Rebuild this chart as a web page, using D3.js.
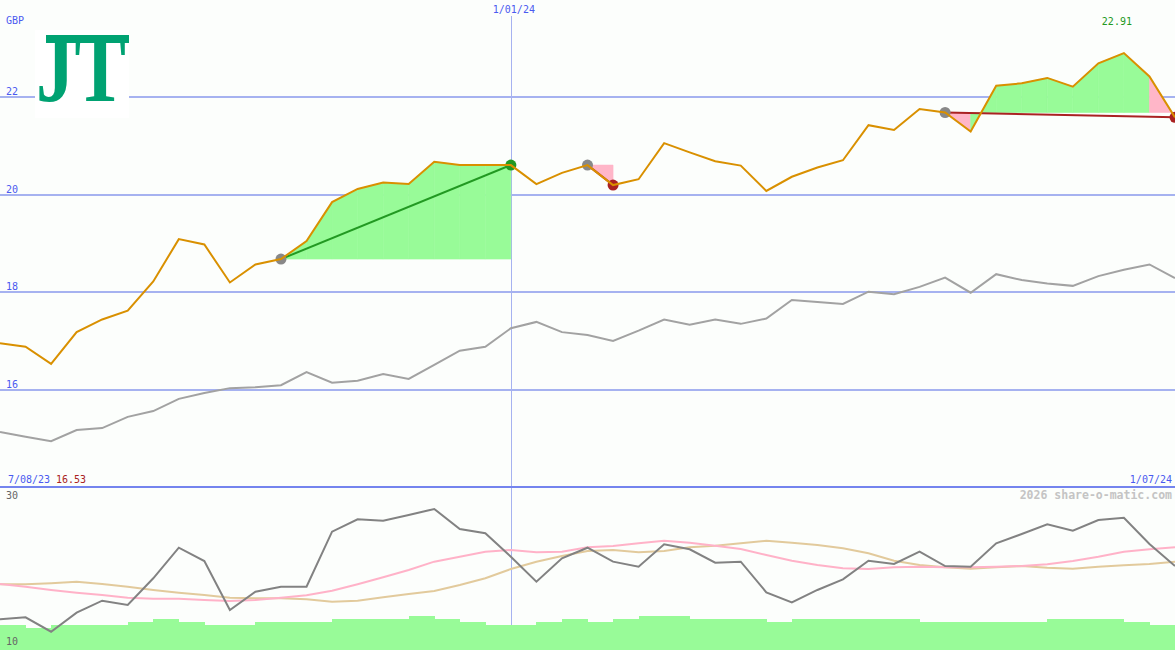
<!DOCTYPE html>
<html><head><meta charset="utf-8">
<script src="https://cdn.jsdelivr.net/npm/d3@7"></script>
<style>
html,body{margin:0;padding:0;background:#fcfefc;overflow:hidden;}
svg{display:block;}
text{font-family:"DejaVu Sans Mono",monospace;font-size:10px;}
</style></head><body>
<svg id="chart" width="1175" height="650"></svg>
<script>
// ---- data (weekly closes, 14/08/23 .. 1/07/24) ----
const price = [16.95,16.88,16.53,17.18,17.44,17.62,18.22,19.09,18.98,18.20,18.57,18.68,19.05,19.85,20.12,20.25,20.22,20.68,20.61,20.61,20.61,20.22,20.45,20.61,20.20,20.32,21.06,20.87,20.69,20.60,20.08,20.37,20.56,20.71,21.43,21.33,21.76,21.69,21.30,22.24,22.29,22.40,22.22,22.70,22.91,22.43,21.59];
const benchmark = [15.13,15.03,14.94,15.17,15.21,15.44,15.56,15.81,15.93,16.03,16.05,16.09,16.36,16.14,16.18,16.32,16.22,16.51,16.80,16.88,17.26,17.39,17.18,17.12,17.00,17.21,17.44,17.33,17.44,17.35,17.46,17.84,17.80,17.76,18.01,17.96,18.11,18.30,17.99,18.37,18.25,18.18,18.13,18.33,18.46,18.57,18.29];
const oscMain = [13.77,14.04,12.08,14.67,16.30,15.71,19.35,23.51,21.70,15.03,17.52,18.20,18.20,25.69,27.37,27.18,27.96,28.78,26.05,25.47,22.29,18.88,22.07,23.51,21.61,20.93,23.97,23.29,21.47,21.61,17.44,16.08,17.76,19.21,21.74,21.29,22.97,21.02,20.93,24.11,25.37,26.69,25.82,27.28,27.59,24.01,21.02];
const oscPink = [18.57,18.20,17.76,17.39,17.07,16.71,16.57,16.57,16.39,16.26,16.39,16.71,17.03,17.66,18.53,19.48,20.48,21.61,22.29,22.97,23.20,22.88,22.97,23.56,23.74,24.11,24.46,24.19,23.78,23.33,22.52,21.74,21.16,20.71,20.61,20.84,20.93,20.84,20.84,20.93,21.02,21.25,21.70,22.29,22.97,23.29,23.56];
const oscTan = [18.53,18.53,18.67,18.88,18.57,18.20,17.76,17.39,17.07,16.71,16.63,16.63,16.49,16.16,16.30,16.76,17.21,17.62,18.44,19.35,20.61,21.61,22.38,23.06,23.20,22.88,23.06,23.56,23.78,24.11,24.46,24.19,23.88,23.43,22.75,21.74,21.16,20.84,20.65,20.84,21.02,20.79,20.65,20.93,21.12,21.29,21.61];
const volume = [7.4,6.6,7.4,7.4,7.4,8.2,9.1,8.2,7.4,7.4,8.2,8.2,8.2,9.1,9.1,9.1,10,9.1,8.2,7.4,7.4,8.2,9.1,8.2,9.1,10,10,9.1,9.1,9.1,8.2,9.1,9.1,9.1,9.1,9.1,8.2,8.2,8.2,8.2,8.2,9.1,9.1,9.1,8.2,7.4];
const priceTicks = [16,18,20,22];
const oscTicks = [30,10];
const tradeEntry = [11,23,37];
const tradeExit = [20,24,46];
const midDateIndex = 20;
const midDateLabel = "1/01/24";
const startLabel = "7/08/23";
const endLabel = "1/07/24";
const currency = "GBP";
const minLabel = "16.53";
const maxLabel = "22.91";
const maxIndex = 44;

// ---- layout ----
const W = 1175, H = 650;
const svg = d3.select("#chart");
svg.append("rect").attr("width", W).attr("height", H).attr("fill", "#fcfefc");

const x = d3.scaleLinear().domain([0, price.length - 1]).range([0, W]);
const y = d3.scaleLinear().domain([14, 24]).range([487, 0]);
const yo = d3.scaleLinear().domain([10, 30]).range([647, 500]);
const yv = d3.scaleLinear().domain([0, 10]).range([650, 616]);

const GRID = "#a6b2f0", BLUE = "#4a5af0", GREEN = "#229922", RED = "#aa2222";
const FILLG = "#98fb98", FILLR = "#ffb6c8";

// gridlines
svg.append("g").selectAll("line").data(priceTicks).join("line")
  .attr("x1", 0).attr("x2", W)
  .attr("y1", d => Math.round(y(d))).attr("y2", d => Math.round(y(d)))
  .attr("stroke", GRID).attr("stroke-width", 2).attr("shape-rendering", "crispEdges");

// vertical date line
svg.append("line").attr("x1", Math.round(x(midDateIndex)) + 0.5).attr("x2", Math.round(x(midDateIndex)) + 0.5)
  .attr("y1", 16).attr("y2", H).attr("stroke", GRID).attr("stroke-width", 1);

// volume bars (lower panel)
svg.append("g").selectAll("rect").data(volume).join("rect")
  .attr("x", (d, i) => x(i)).attr("width", (d, i) => x(i + 1) - x(i) + 0.5)
  .attr("y", d => yv(d)).attr("height", d => H - yv(d))
  .attr("fill", FILLG).attr("shape-rendering", "crispEdges");

// panel separator
svg.append("line").attr("x1", 0).attr("x2", W).attr("y1", 487).attr("y2", 487)
  .attr("stroke", "#7484ee").attr("stroke-width", 2).attr("shape-rendering", "crispEdges");

// trade fills
const fills = svg.append("g");
tradeEntry.forEach((e, t) => {
  const base = price[e];
  for (let i = e; i < tradeExit[t]; i++) {
    const col = price[i + 1] > base ? FILLG : FILLR;
    const pts = [[x(i), y(base)], [x(i), y(price[i])], [x(i + 1), y(price[i + 1])], [x(i + 1), y(base)]];
    fills.append("path").attr("d", "M" + pts.join("L") + "Z").attr("fill", col)
      .attr("stroke", col).attr("stroke-width", 0.6);
  }
});

// benchmark line
const line = (ys) => d3.line().x((d, i) => x(i)).y(d => ys(d));
svg.append("path").datum(benchmark).attr("d", line(y)).attr("fill", "none")
  .attr("stroke", "#a2a2a2").attr("stroke-width", 2);

// trade lines + markers (under the price line)
tradeEntry.forEach((e, t) => {
  const xi = tradeExit[t];
  const win = price[xi] > price[e];
  const c = win ? GREEN : RED;
  svg.append("line").attr("x1", x(e)).attr("y1", y(price[e])).attr("x2", x(xi)).attr("y2", y(price[xi]))
    .attr("stroke", c).attr("stroke-width", 2);
  svg.append("circle").attr("cx", x(e)).attr("cy", y(price[e])).attr("r", 5.5).attr("fill", "#888");
  svg.append("circle").attr("cx", x(xi)).attr("cy", y(price[xi])).attr("r", 5.5).attr("fill", c);
});

// price line
svg.append("path").datum(price).attr("d", line(y)).attr("fill", "none")
  .attr("stroke", "#d99000").attr("stroke-width", 2);

// lower panel lines
svg.append("path").datum(oscTan).attr("d", line(yo)).attr("fill", "none").attr("stroke", "#e2ca9c").attr("stroke-width", 2);
svg.append("path").datum(oscPink).attr("d", line(yo)).attr("fill", "none").attr("stroke", "#ffb2c8").attr("stroke-width", 2);
svg.append("path").datum(oscMain).attr("d", line(yo)).attr("fill", "none").attr("stroke", "#828282").attr("stroke-width", 2);

// logo
svg.append("rect").attr("x", 35).attr("y", 30).attr("width", 94).attr("height", 88).attr("fill", "#ffffff");
svg.append("rect").attr("x", 46).attr("y", 35).attr("width", 83).attr("height", 8).attr("fill", "#00a272");
svg.append("text").attr("x", 36).attr("y", 101).text("JT")
  .attr("textLength", 90).attr("lengthAdjust", "spacingAndGlyphs")
  .style("font-family", "'Liberation Serif', serif").style("font-weight", "bold")
  .style("font-size", "98px").attr("fill", "#00a272");

// labels
svg.append("text").attr("x", 6).attr("y", 24).attr("fill", BLUE).text(currency);
svg.append("g").selectAll("text").data(priceTicks).join("text")
  .attr("x", 6).attr("y", d => Math.round(y(d)) - 2).attr("fill", BLUE).text(d => d);
svg.append("text").attr("x", x(midDateIndex) + 3).attr("y", 13).attr("text-anchor", "middle").attr("fill", BLUE).text(midDateLabel);
svg.append("text").attr("x", x(maxIndex) - 7).attr("y", 25).attr("text-anchor", "middle").attr("fill", GREEN).text(maxLabel);
svg.append("text").attr("x", 8).attr("y", 483).attr("fill", BLUE).text(startLabel);
svg.append("text").attr("x", 56).attr("y", 483).attr("fill", RED).text(minLabel);
svg.append("text").attr("x", 1172).attr("y", 483).attr("text-anchor", "end").attr("fill", BLUE).text(endLabel);
svg.append("text").attr("x", 1172).attr("y", 499).attr("text-anchor", "end").attr("fill", "#c4c4c4")
  .style("font-weight", "bold").style("font-size", "11.5px").text("2026 share-o-matic.com");
svg.append("g").selectAll("text").data(oscTicks).join("text")
  .attr("x", 6).attr("y", d => d === 30 ? 499 : 645).attr("fill", "#666").text(d => d);
</script>
</body></html>
